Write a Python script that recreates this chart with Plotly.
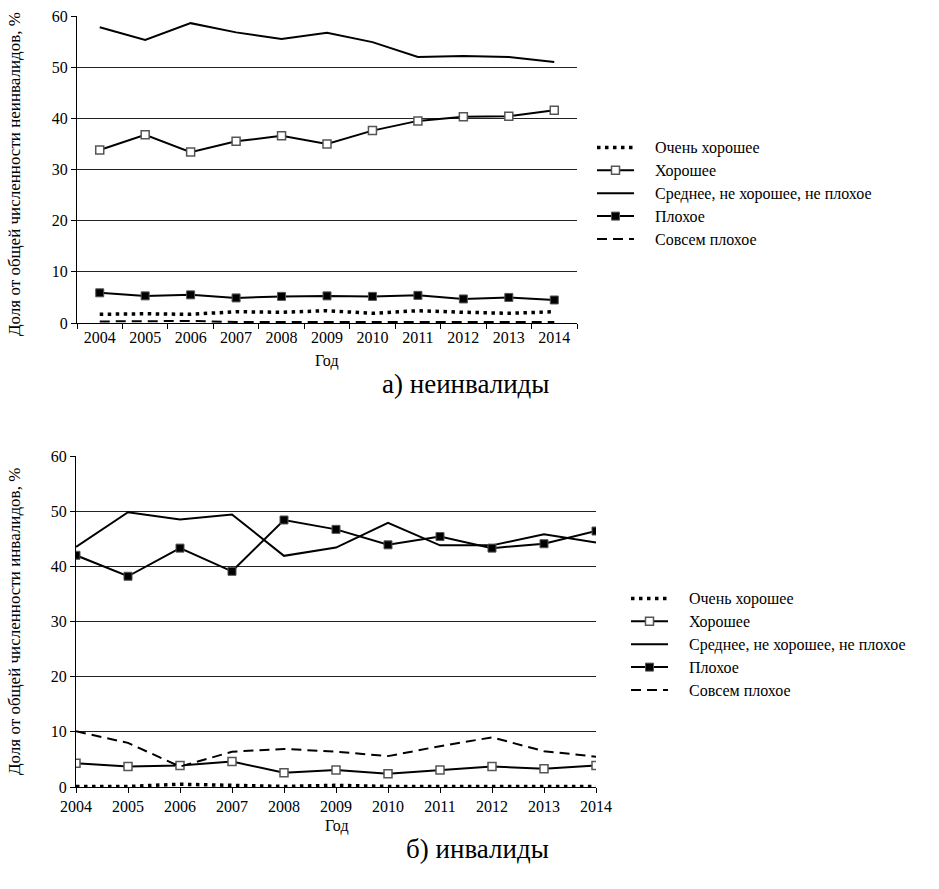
import plotly.graph_objects as go

years = [2004, 2005, 2006, 2007, 2008, 2009, 2010, 2011, 2012, 2013, 2014]
year_labels = [str(y) for y in years]
names = ["Очень хорошее", "Хорошее", "Среднее, не хорошее, не плохое", "Плохое", "Совсем плохое"]

# а) неинвалиды
non_very_good = [1.7, 1.8, 1.7, 2.2, 2.1, 2.4, 1.9, 2.4, 2.1, 1.9, 2.2]
non_good = [33.8, 36.8, 33.4, 35.5, 36.6, 35.0, 37.6, 39.5, 40.3, 40.4, 41.6]
non_average = [57.8, 55.3, 58.6, 56.8, 55.5, 56.7, 54.9, 52.0, 52.2, 52.0, 51.0]
non_bad = [5.9, 5.3, 5.5, 4.9, 5.2, 5.3, 5.2, 5.4, 4.7, 5.0, 4.5]
non_very_bad = [0.3, 0.3, 0.4, 0.2, 0.2, 0.2, 0.2, 0.2, 0.2, 0.2, 0.2]

# б) инвалиды
dis_very_good = [0.1, 0.1, 0.5, 0.3, 0.1, 0.3, 0.1, 0.1, 0.1, 0.2, 0.1]
dis_good = [4.3, 3.7, 3.9, 4.6, 2.6, 3.1, 2.4, 3.1, 3.7, 3.3, 3.9]
dis_average = [43.5, 49.8, 48.5, 49.4, 41.9, 43.4, 47.9, 43.8, 43.8, 45.8, 44.3]
dis_bad = [42.0, 38.2, 43.3, 39.1, 48.4, 46.7, 43.9, 45.4, 43.3, 44.1, 46.4]
dis_very_bad = [10.1, 8.0, 3.7, 6.4, 6.9, 6.4, 5.6, 7.4, 9.0, 6.5, 5.5]

FONT = "Liberation Serif"
W, H = 939, 889

def px(x):
    return x / W

def py(y):
    return (H - y) / H

styles = [
    dict(mode="lines", line=dict(color="black", width=3.5, dash="3.5px,4.5px")),
    dict(mode="lines+markers", line=dict(color="black", width=2),
         marker=dict(symbol="square", size=8, color="white", line=dict(color="#555", width=1.5))),
    dict(mode="lines", line=dict(color="black", width=2)),
    dict(mode="lines+markers", line=dict(color="black", width=2),
         marker=dict(symbol="square", size=8, color="black", line=dict(color="#555", width=1))),
    dict(mode="lines", line=dict(color="black", width=2, dash="10px,6px")),
]

LEG_SIZE = 16
NBSP = "\u00a0" * 4

def leg_name(n):
    return f'<span style="font-size:{LEG_SIZE}px">{NBSP}{n}</span>'

fig = go.Figure()

top_series = [non_very_good, non_good, non_average, non_bad, non_very_bad]
bot_series = [dis_very_good, dis_good, dis_average, dis_bad, dis_very_bad]

for name, vals, st in zip(names, top_series, styles):
    fig.add_trace(go.Scatter(x=year_labels, y=vals, name=leg_name(name), xaxis="x", yaxis="y",
                             legend="legend", **st))
for name, vals, st in zip(names, bot_series, styles):
    fig.add_trace(go.Scatter(x=years, y=vals, name=leg_name(name), xaxis="x2", yaxis="y2",
                             legend="legend2", **st))

axis_font = dict(family=FONT, size=16, color="black")
grid = dict(showgrid=True, gridcolor="#222", gridwidth=1)

fig.update_layout(
    width=W, height=H,
    margin=dict(l=0, r=0, t=0, b=0, autoexpand=False),
    paper_bgcolor="white", plot_bgcolor="white",
    font=dict(family=FONT, color="black"),
    xaxis=dict(domain=[px(77), px(577)], anchor="y", type="category",
               range=[-0.5, 10.5], tickson="boundaries", ticks="outside", ticklen=5,
               tickcolor="black", showline=True, linecolor="black", linewidth=1,
               showgrid=False, tickfont=axis_font, zeroline=False, automargin=False),
    yaxis=dict(domain=[py(323), py(16)], anchor="x", range=[0, 60], dtick=10,
               ticks="outside", ticklen=5, tickcolor="black", showline=True,
               linecolor="black", linewidth=1, tickfont=axis_font, zeroline=False,
               automargin=False, **grid),
    xaxis2=dict(domain=[px(76), px(596)], anchor="y2", range=[2004, 2014], dtick=1,
                ticks="outside", ticklen=5, tickcolor="black", showline=True,
                linecolor="black", linewidth=1, showgrid=False, tickfont=axis_font,
                zeroline=False, automargin=False),
    yaxis2=dict(domain=[py(787), py(456)], anchor="x2", range=[0, 60], dtick=10,
                ticks="outside", ticklen=5, tickcolor="black", showline=True,
                linecolor="black", linewidth=1, tickfont=axis_font, zeroline=False,
                automargin=False, **grid),
    legend=dict(x=px(592), y=py(131), xanchor="left", yanchor="top",
                font=dict(family=FONT, size=15.3, color="black"), bgcolor="rgba(0,0,0,0)",
                tracegroupgap=0, itemwidth=37),
    legend2=dict(x=px(626), y=py(582), xanchor="left", yanchor="top",
                 font=dict(family=FONT, size=15.3, color="black"), bgcolor="rgba(0,0,0,0)",
                 tracegroupgap=0, itemwidth=37),
    showlegend=True,
)

ann = [
    dict(text="Год", x=px(327), y=py(361), font=dict(family=FONT, size=16)),
    dict(text="Год", x=px(337), y=py(826), font=dict(family=FONT, size=16)),
    dict(text="а) неинвалиды", x=px(465), y=py(384), font=dict(family=FONT, size=27)),
    dict(text="б) инвалиды", x=px(477), y=py(849), font=dict(family=FONT, size=27)),
    dict(text="Доля от общей численности неинвалидов, %", x=px(14), y=py(174),
         textangle=-90, font=dict(family=FONT, size=17)),
    dict(text="Доля от общей численности инвалидов, %", x=px(14), y=py(622),
         textangle=-90, font=dict(family=FONT, size=17)),
]
for a in ann:
    fig.add_annotation(xref="paper", yref="paper", showarrow=False,
                       xanchor="center", yanchor="middle", **a)

fig.write_html("out.html", config={"displayModeBar": False},
               post_script="document.body.style.margin='0';")
